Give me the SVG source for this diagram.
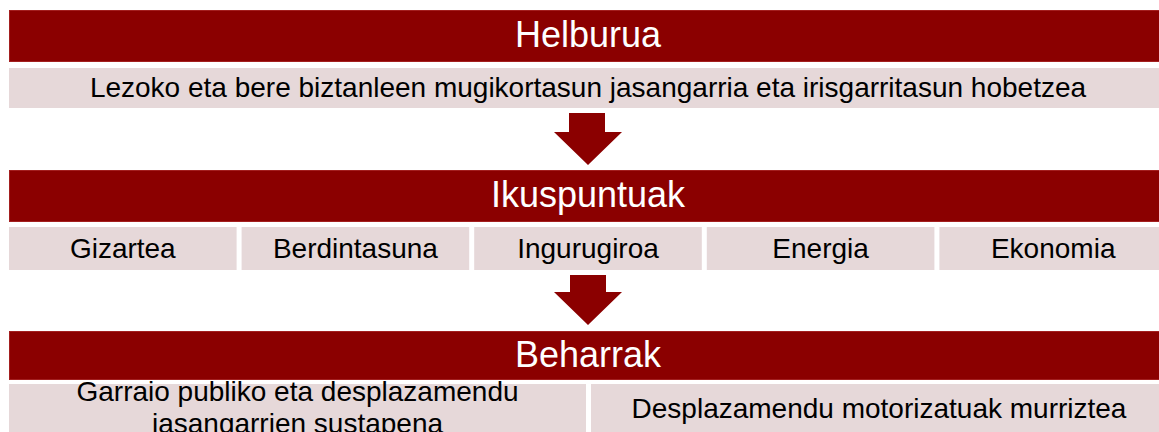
<svg xmlns="http://www.w3.org/2000/svg" width="1159" height="432" viewBox="0 0 1159 432">
<style>
.bar{fill:#8B0000;stroke:#A31F1F;stroke-width:1}
.cell{fill:#E6D8D9}
.arrow{fill:#8B0000}
.ht{font-family:"Liberation Sans",Arial,sans-serif;font-size:36px;fill:#FFFFFF;text-anchor:middle}
.ct{font-family:"Liberation Sans",Arial,sans-serif;font-size:28px;fill:#000000;text-anchor:middle}
</style>
<rect width="1159" height="432" fill="#FFFFFF"/>
<g id="helburua">
<rect class="bar" x="9.5" y="10.5" width="1158" height="51"/>
<text class="ht" x="588" y="47">Helburua</text>
</g>
<g id="helburua-text">
<rect class="cell" x="9" y="68" width="1158" height="40"/>
<text class="ct" x="588" y="97">Lezoko eta bere biztanleen mugikortasun jasangarria eta irisgarritasun hobetzea</text>
</g>
<g id="ikuspuntuak">
<rect class="bar" x="9.5" y="170.5" width="1158" height="51"/>
<text class="ht" x="588" y="207">Ikuspuntuak</text>
</g>
<g id="gizartea">
<rect class="cell" x="9" y="227" width="227.6" height="43"/>
<text class="ct" x="122.8" y="258">Gizartea</text>
</g>
<g id="berdintasuna">
<rect class="cell" x="241.6" y="227" width="227.6" height="43"/>
<text class="ct" x="355.4" y="258">Berdintasuna</text>
</g>
<g id="ingurugiroa">
<rect class="cell" x="474.2" y="227" width="227.6" height="43"/>
<text class="ct" x="588" y="258">Ingurugiroa</text>
</g>
<g id="energia">
<rect class="cell" x="706.8" y="227" width="227.6" height="43"/>
<text class="ct" x="820.6" y="258">Energia</text>
</g>
<g id="ekonomia">
<rect class="cell" x="939.4" y="227" width="227.6" height="43"/>
<text class="ct" x="1053.2" y="258">Ekonomia</text>
</g>
<g id="beharrak">
<rect class="bar" x="9.5" y="331.5" width="1158" height="48"/>
<text class="ht" x="588" y="367">Beharrak</text>
</g>
<g id="garraio">
<rect class="cell" x="9" y="384" width="577" height="60"/>
<text class="ct" x="297.5" y="401">Garraio publiko eta desplazamendu</text>
<text class="ct" x="297.5" y="433">jasangarrien sustapena</text>
</g>
<g id="desplazamendu">
<rect class="cell" x="591" y="384" width="576" height="60"/>
<text class="ct" x="879" y="418">Desplazamendu motorizatuak murriztea</text>
</g>
<g id="connectors">
<polygon class="arrow" points="569,113 605,113 605,132 622,132 588,165 554,132 569,132"/>
<polygon class="arrow" points="570,275 606,275 606,292 622,292 588,325 554,292 570,292"/>
</g>
</svg>
